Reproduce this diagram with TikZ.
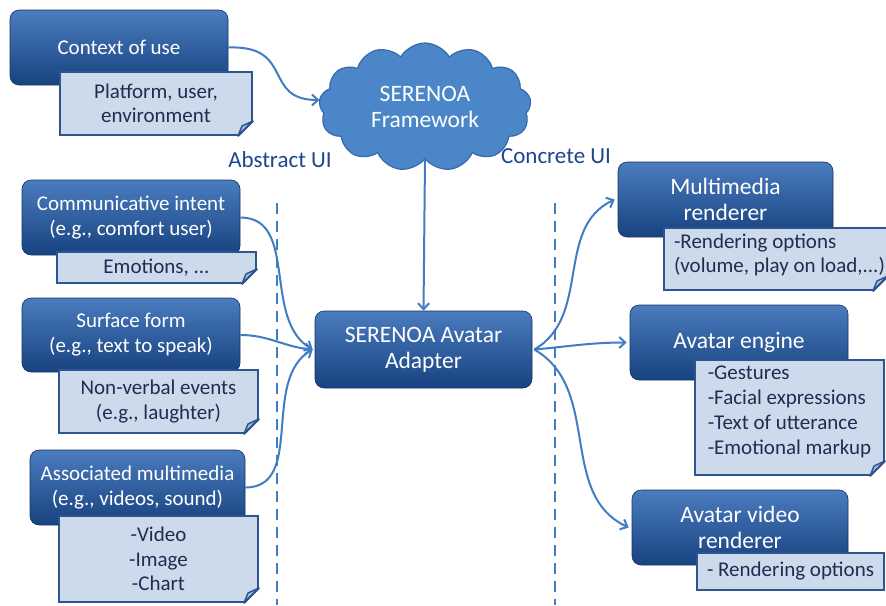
\documentclass[tikz,border=0pt]{standalone}
\usepackage{fontspec}
\setmainfont{Carlito}
\usetikzlibrary{shapes.symbols,arrows.meta,calc}
\definecolor{boxtop}{RGB}{74,124,190}
\definecolor{boxbot}{RGB}{24,66,128}
\definecolor{notefill}{RGB}{205,218,236}
\definecolor{notedraw}{RGB}{45,85,145}
\definecolor{notetext}{RGB}{30,45,80}
\definecolor{arrowc}{RGB}{65,125,195}
\definecolor{cloudfill}{RGB}{75,135,200}
\definecolor{clouddraw}{RGB}{55,105,170}
\definecolor{labelc}{RGB}{30,70,140}
\tikzset{
  darkbox/.style={rounded corners=9pt, top color=boxtop, bottom color=boxbot, draw=boxbot!80!black, line width=0.6pt,
    text=white, align=center, font=\fontsize{21}{25}\selectfont, inner sep=2pt},
  bigtext/.style={font=\fontsize{23.5}{26}\selectfont},
  notebox/.style={fill=notefill, draw=notedraw, line width=2pt, text=notetext,
    font=\fontsize{21}{24.5}\selectfont, inner sep=2pt},
  conn/.style={draw=arrowc, line width=2pt, -{Straight Barb[length=6pt,width=11pt,line width=2pt]}},
  divider/.style={draw=arrowc, line width=2.6pt, dash pattern=on 11pt off 7pt},
  uilabel/.style={text=labelc, font=\fontsize{23}{26}\selectfont},
}
\newcommand{\fold}[1]{%
  \fill[white] ([xshift=-15pt,yshift=-1pt]#1.south east) -- ([xshift=1pt,yshift=-1pt]#1.south east) -- ([xshift=1pt,yshift=15pt]#1.south east) -- cycle;
  \filldraw[fill=notefill!80!notedraw, draw=notedraw, line width=1.5pt, line join=round]
    ([xshift=-15pt]#1.south east) -- ([yshift=15pt]#1.south east) -- ([xshift=-11pt,yshift=10pt]#1.south east) -- cycle;
  \draw[notedraw, line width=2pt] ([xshift=-15pt]#1.south east) -- ([yshift=15pt]#1.south east);}
\begin{document}
\begin{tikzpicture}[x=1pt,y=1pt]
\useasboundingbox (0,0) rectangle (886,-605);
\fill[white] (0,0) rectangle (886,-605);

% dividers
\coordinate (dl1) at (277,-203); \coordinate (dl2) at (277,-605);
\coordinate (dr1) at (555,-203); \coordinate (dr2) at (555,-605);
\draw[divider] (dl1) -- (dl2);
\draw[divider] (dr1) -- (dr2);

% context
\node[darkbox, minimum width=218, minimum height=75] (ctx) at (119,-47.5) {Context of use};
\node[notebox, minimum width=192, minimum height=63, align=center] (ctxn) at (156,-103.5) {Platform, user,\\environment};
\fold{ctxn}

% cloud
\node[cloud, cloud puffs=13, cloud puff arc=120, aspect=1.6, fill=cloudfill, draw=clouddraw, line width=1.2pt,
  minimum width=212, minimum height=128, text=white, align=center, font=\fontsize{23.5}{26}\selectfont] (cloud) at (425,-107) {SERENOA\\Framework};

\node[uilabel] (absl) at (280,-160) {Abstract UI};
\node[uilabel] (conl) at (556,-156) {Concrete UI};

% left inputs
\node[darkbox, minimum width=218, minimum height=75] (comm) at (131,-217.5) {Communicative intent\\(e.g., comfort user)};
\node[notebox, minimum width=199, minimum height=31, align=center] (commn) at (156.5,-267.5) {Emotions, ...};
\fold{commn}

\node[darkbox, minimum width=218, minimum height=74] (surf) at (131,-335) {Surface form\\(e.g., text to speak)};
\node[notebox, minimum width=199, minimum height=63, align=center] (surfn) at (158.5,-401.5) {Non-verbal events\\(e.g., laughter)};
\fold{surfn}

\node[darkbox, minimum width=215, minimum height=75] (assoc) at (137.5,-487.5) {Associated multimedia\\(e.g., videos, sound)};
\node[notebox, minimum width=199, minimum height=86, align=center] (assocn) at (158.5,-559) {-Video\\-Image\\-Chart};
\fold{assocn}

% adapter
\node[darkbox, bigtext, minimum width=217, minimum height=77] (adapt) at (423.5,-349.5) {SERENOA Avatar\\Adapter};

% right outputs
\node[darkbox, bigtext, minimum width=215, minimum height=75] (mm) at (725.5,-199.5) {Multimedia\\renderer};
\node[notebox, minimum width=217, minimum height=62, align=left] (mmn) at (775.5,-259) {\hspace*{8pt}\raisebox{-2pt}[0pt][0pt]{\begin{tabular}{@{}l@{}}-Rendering options\\(volume, play on load,...)\end{tabular}}};
\fold{mmn}

\node[darkbox, bigtext, minimum width=218, minimum height=75] (ae) at (739,-342.5) {Avatar engine};
\node[notebox, minimum width=189, minimum height=115, align=left] (aen) at (789.5,-417.5) {\raisebox{0pt}[0pt][0pt]{\begin{tabular}{@{}l@{}}-Gestures\\[0.5pt]-Facial expressions\\[0.5pt]-Text of utterance\\[0.5pt]-Emotional markup\end{tabular}}};
\fold{aen}

\node[darkbox, bigtext, minimum width=216, minimum height=75] (avr) at (740,-527.5) {Avatar video\\renderer};
\node[notebox, minimum width=187, minimum height=37, align=left] (avrn) at (790.5,-571.5) {- Rendering options};

% connectors
\draw[conn] (ctx.east) .. controls (295,-45) and (262,-100) .. ([yshift=7pt]cloud.west);
\draw[conn] (cloud.south) -- (adapt.north);
\draw[conn] (comm.east) to[out=0,in=150] ([xshift=-2pt]adapt.west);
\draw[conn] (surf.east) to[out=0,in=175] ([xshift=-2pt]adapt.west);
\draw[conn] (assoc.east) to[out=0,in=210] ([xshift=-2pt]adapt.west);
\draw[conn] ([xshift=2pt]adapt.east) to[out=30,in=205] ([xshift=-3pt]mm.west);
\draw[conn] ([xshift=2pt]adapt.east) to[out=5,in=180] ([xshift=-3pt]ae.west);
\draw[conn] ([xshift=2pt]adapt.east) to[out=-30,in=155] ([xshift=-3pt]avr.west);
\end{tikzpicture}
\end{document}
